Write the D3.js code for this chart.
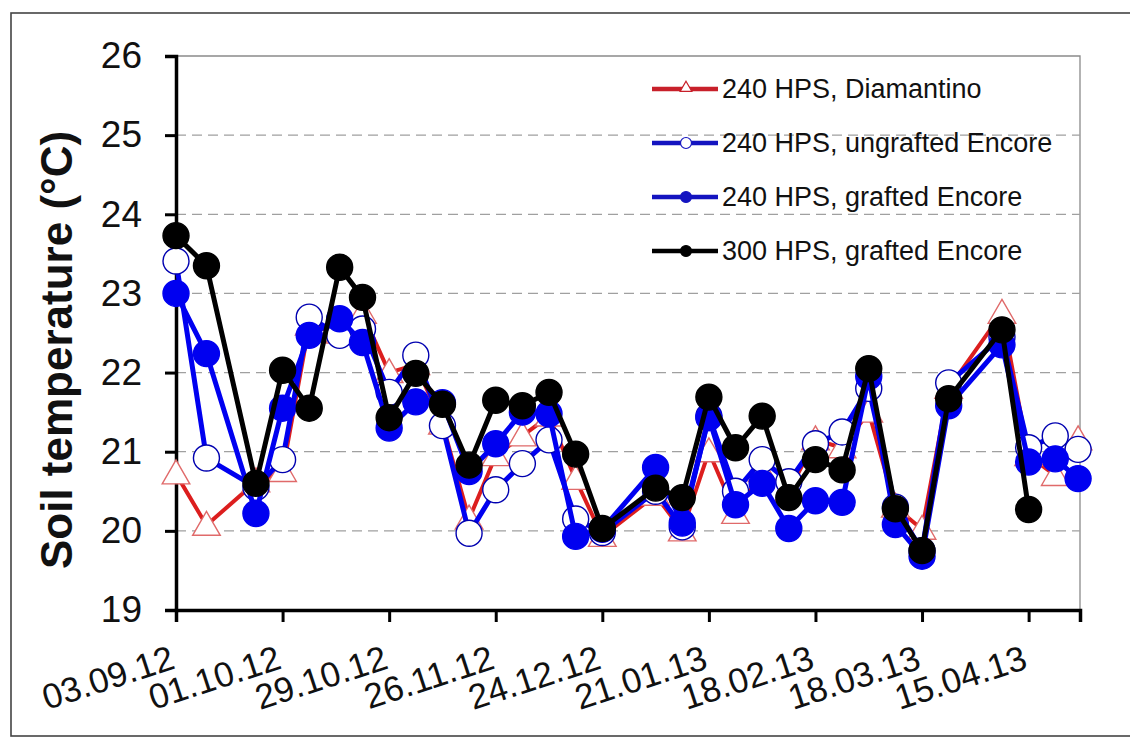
<!DOCTYPE html>
<html>
<head>
<meta charset="utf-8">
<script src="https://cdn.jsdelivr.net/npm/d3@7"></script>
<style>
  html, body { margin: 0; padding: 0; background: #fff; }
  svg { display: block; font-family: Arial, "Liberation Sans", sans-serif; }
</style>
</head>
<body>
<svg id="chart" width="1130" height="738"></svg>
<script>
// Sampling dates (dd.mm.yy)
const dates = [
  "03.09.12","11.09.12","24.09.12","01.10.12","08.10.12","16.10.12","22.10.12","29.10.12",
  "05.11.12","12.11.12","19.11.12","26.11.12","03.12.12","10.12.12","17.12.12","24.12.12",
  "07.01.13","14.01.13","21.01.13","28.01.13","04.02.13","11.02.13","18.02.13","25.02.13",
  "04.03.13","11.03.13","18.03.13","25.03.13","08.04.13","15.04.13","22.04.13","28.04.13"
];

// Soil temperature (°C) per treatment
const hps240Diamantino = [
  20.72, 20.07, 20.62, 20.75, 22.60, 22.50, 22.75, 22.00,
  22.10, 21.35, 20.15, 20.95, 21.20, 21.45, 20.65, 19.93,
  20.45, 20.00, 21.00, 20.22, 20.75, 20.50, 21.15, 21.05,
  21.50, 20.30, 20.02, 21.80, 22.75, 20.95, 20.70, 21.15
];
const hps240Ungrafted = [
  23.41, 20.92, 20.55, 20.90, 22.70, 22.47, 22.55, 21.75,
  22.22, 21.33, 19.97, 20.52, 20.85, 21.15, 20.15, 19.98,
  20.50, 20.05, 21.45, 20.50, 20.90, 20.62, 21.10, 21.25,
  21.80, 20.30, 19.75, 21.87, 22.45, 21.05, 21.20, 21.03
];
const hps240Grafted = [
  23.00, 22.24, 20.22, 21.55, 22.47, 22.68, 22.38, 21.30,
  21.63, 21.62, 20.75, 21.10, 21.50, 21.48, 19.93, 20.02,
  20.80, 20.10, 21.43, 20.33, 20.60, 20.03, 20.38, 20.36,
  21.95, 20.08, 19.68, 21.58, 22.35, 20.87, 20.91, 20.66
];
const hps300Grafted = [
  23.73, 23.35, 20.60, 22.03, 21.55, 23.33, 22.95, 21.43,
  21.99, 21.60, 20.83, 21.65, 21.58, 21.75, 20.97, 20.03,
  20.54, 20.42, 21.69, 21.05, 21.45, 20.42, 20.90, 20.77,
  22.05, 20.28, 19.75, 21.67, 22.54, 20.27, null, null
];

const seriesNames = [
  "240 HPS, Diamantino",
  "240 HPS, ungrafted Encore",
  "240 HPS, grafted Encore",
  "300 HPS, grafted Encore"
];

const xTickLabels = ["03.09.12","01.10.12","29.10.12","26.11.12","24.12.12","21.01.13","18.02.13","18.03.13","15.04.13"];
const yTicks = [19, 20, 21, 22, 23, 24, 25, 26];

const parse = d3.timeParse("%d.%m.%y");
const fmt = d3.timeFormat("%d.%m.%y");

const svg = d3.select("#chart");

const plot = { left: 176, right: 1080, top: 56, bottom: 610 };

const x = d3.scaleTime()
  .domain([parse("03.09.12"), d3.timeHour.offset(parse("28.04.13"), 12)])
  .range([plot.left, plot.right]);
const y = d3.scaleLinear().domain([19, 26]).range([plot.bottom, plot.top]);

// outer frame
svg.append("rect")
  .attr("x", 11).attr("y", 13).attr("width", 1125).attr("height", 723)
  .attr("fill", "#fff").attr("stroke", "#444").attr("stroke-width", 1.6);

// plot area border (top and right)
svg.append("path")
  .attr("d", `M${plot.left},${plot.top}H${plot.right}V${plot.bottom}`)
  .attr("fill", "none").attr("stroke", "#8a8a8a").attr("stroke-width", 1.3);

// horizontal dashed gridlines
svg.append("g").selectAll("line")
  .data(yTicks.filter(v => v > 19 && v < 26))
  .join("line")
  .attr("x1", plot.left).attr("x2", plot.right)
  .attr("y1", d => y(d)).attr("y2", d => y(d))
  .attr("stroke", "#a0a0a0").attr("stroke-width", 1.2)
  .attr("stroke-dasharray", "10,6");

// y axis
const yAxis = svg.append("g")
  .attr("transform", `translate(${plot.left},0)`)
  .call(d3.axisLeft(y).tickValues(yTicks).tickSize(11).tickPadding(23).tickFormat(d3.format("d")));
yAxis.select(".domain").attr("stroke", "#000").attr("stroke-width", 3.5);
yAxis.selectAll(".tick line").attr("stroke", "#000").attr("stroke-width", 3);
yAxis.selectAll(".tick text")
  .attr("font-size", 37).attr("fill", "#111")
  .attr("font-family", "Arial, 'Liberation Sans', sans-serif");

// x axis
const xAxis = svg.append("g")
  .attr("transform", `translate(0,${plot.bottom})`)
  .call(d3.axisBottom(x).tickValues(xTickLabels.map(parse)).tickSize(12).tickFormat(fmt));
xAxis.select(".domain").attr("stroke", "#000").attr("stroke-width", 3.5);
xAxis.selectAll(".tick line").attr("stroke", "#000").attr("stroke-width", 3);
xAxis.selectAll(".tick text")
  .attr("font-size", 35).attr("fill", "#111")
  .attr("font-family", "Arial, 'Liberation Sans', sans-serif")
  .attr("text-anchor", "end")
  .attr("dy", null)
  .attr("y", 0)
  .attr("transform", "translate(0,58) rotate(-18)");

// y-axis title
svg.append("text")
  .attr("transform", "translate(56,350) rotate(-90)")
  .attr("text-anchor", "middle")
  .attr("dominant-baseline", "central")
  .attr("font-size", 44).attr("font-weight", "bold").attr("fill", "#111")
  .text("Soil temperature (°C)");

const RED = "#dc1e1e", BLUE = "#0000f0", DARKBLUE = "#0000b0", BLACK = "#000";

const series = [
  { name: seriesNames[0], values: hps240Diamantino, line: RED, width: 4, marker: "triangle", fill: "#fff", stroke: "#e06a6a" },
  { name: seriesNames[1], values: hps240Ungrafted, line: BLUE, width: 5, marker: "circle", fill: "#fff", stroke: DARKBLUE },
  { name: seriesNames[2], values: hps240Grafted, line: BLUE, width: 5, marker: "circle", fill: BLUE, stroke: BLUE },
  { name: seriesNames[3], values: hps300Grafted, line: BLACK, width: 5, marker: "circle", fill: BLACK, stroke: BLACK }
];

const line = d3.line()
  .defined(d => d.v != null)
  .x(d => x(d.date)).y(d => y(d.v));

const triSym = d3.symbol().type(d3.symbolTriangle);

series.forEach(s => {
  const pts = dates.map((d, i) => ({ date: parse(d), v: s.values[i] }));
  const g = svg.append("g");
  g.append("path")
    .datum(pts)
    .attr("d", line)
    .attr("fill", "none")
    .attr("stroke", s.line)
    .attr("stroke-width", s.width)
    .attr("stroke-linejoin", "round");
  const valid = pts.filter(p => p.v != null);
  if (s.marker === "circle") {
    g.selectAll("circle").data(valid).join("circle")
      .attr("cx", p => x(p.date)).attr("cy", p => y(p.v)).attr("r", 13)
      .attr("fill", s.fill).attr("stroke", s.stroke).attr("stroke-width", 1.4);
  } else {
    g.selectAll("path.m").data(valid).join("path")
      .attr("class", "m")
      .attr("d", triSym.size(330)())
      .attr("transform", p => `translate(${x(p.date)},${y(p.v) + 2})`)
      .attr("fill", s.fill).attr("stroke", s.stroke).attr("stroke-width", 1.4);
  }
});

// legend
const legend = svg.append("g");
const legY0 = 89, legStep = 54;
series.forEach((s, i) => {
  const ly = legY0 + i * legStep;
  legend.append("line")
    .attr("x1", 652).attr("x2", 718).attr("y1", ly).attr("y2", ly)
    .attr("stroke", s.line === RED ? "#c8202a" : (s.line === BLUE ? "#1414c0" : BLACK))
    .attr("stroke-width", 4.5);
  if (s.marker === "circle") {
    legend.append("circle")
      .attr("cx", 686).attr("cy", ly).attr("r", 5.5)
      .attr("fill", s.fill === "#fff" ? "#fff" : (s.line === BLUE ? "#1414c0" : BLACK))
      .attr("stroke", s.line === BLUE ? "#1414c0" : BLACK).attr("stroke-width", 1.2);
  } else {
    legend.append("path")
      .attr("d", triSym.size(60)())
      .attr("transform", `translate(686,${ly - 1})`)
      .attr("fill", "#fff").attr("stroke", "#c8202a").attr("stroke-width", 1.2);
  }
  legend.append("text")
    .attr("x", 722).attr("y", ly)
    .attr("dominant-baseline", "central")
    .attr("font-size", 27).attr("fill", "#111")
    .text(s.name);
});
</script>
</body>
</html>
